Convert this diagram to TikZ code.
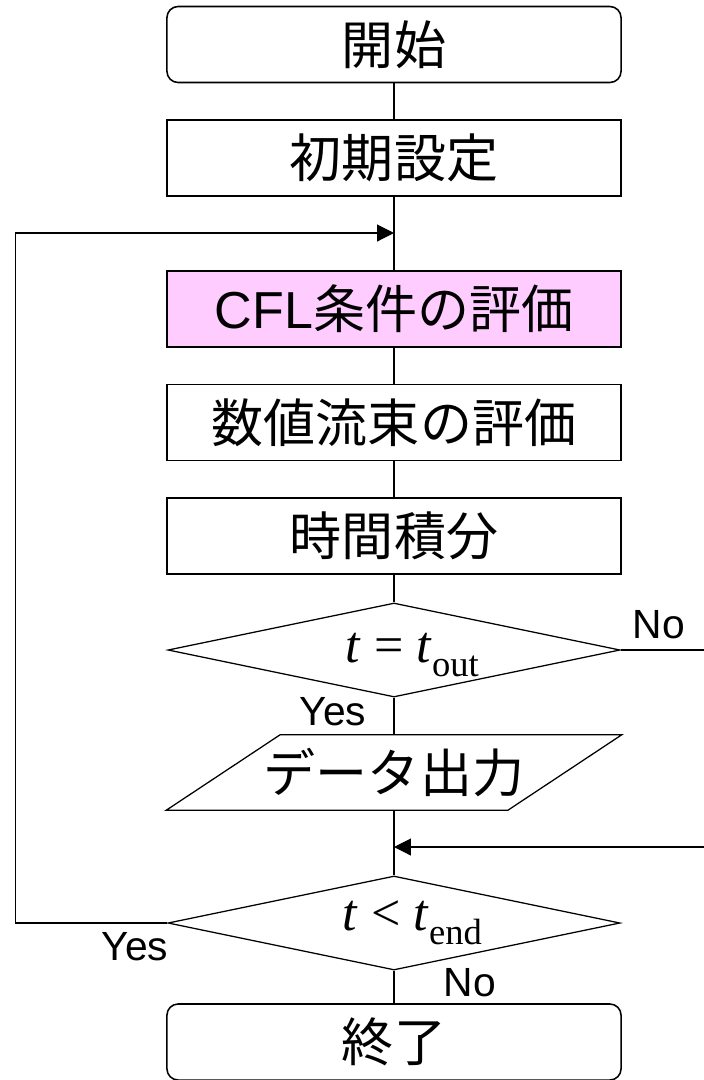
\documentclass[tikz,border=0pt]{standalone}
\usepackage{fontspec}
\setmainfont{Liberation Sans}
\newfontfamily\jpfont{Noto Sans CJK JP}
\newfontfamily\tnrfont{Liberation Serif}
\usetikzlibrary{shapes.geometric,arrows.meta}
\definecolor{cflpink}{HTML}{FFCCFF}
\newcommand{\tsubs}[1]{\textit{t}\raisebox{-0.27em}{\fontsize{26}{26}\selectfont #1}}

\begin{document}
\begin{tikzpicture}[x=0.025cm, y=-0.025cm,
    every node/.style={font=\fontsize{37}{40}\selectfont},
    proc/.style={draw, line width=1.1pt, minimum width=11.35cm, minimum height=1.9cm, inner sep=0pt},
    term/.style={proc, rounded corners=0.28cm},
    decision/.style={diamond, aspect=4.8, draw, line width=0.9pt, minimum width=11.3cm, minimum height=2.35cm, inner sep=0pt},
    io/.style={minimum width=8.525cm, minimum height=1.875cm, inner sep=0pt},
    lbl/.style={font=\fontsize{29}{30}\selectfont},
    link/.style={line width=0.8pt},
    arr/.style={link, -{Triangle[length=12pt,width=12pt]}}]
    \useasboundingbox (0,0) rectangle (704,1080);

    % Etapes
    \node[term] (start) at (394,44.5) {\jpfont 開始};
    \node[proc] (init) at (394,158) {\jpfont 初期設定};
    \node[proc, fill=cflpink] (cfl) at (394,309) {CFL\jpfont 条件の評価};
    \node[proc] (flux) at (394,422.5) {\jpfont 数値流束の評価};
    \node[proc] (integ) at (394,536) {\jpfont 時間積分};
    \node[decision, text depth=3.5pt] (outq) at (394,650) {\hspace*{26pt}\tnrfont\textit{t} = \tsubs{out}};
    \node[io] (out) at (394,772.5) {\jpfont データ出力};
    \node[decision] (endq) at (394,923) {\hspace*{26pt}\tnrfont\textit{t} < \tsubs{end}};
    \node[term] (stop) at (394,1042) {\jpfont 終了};

    % Parallelogramme
    \draw[line width=0.9pt] ([xshift=-1.425cm]out.south west) -- ([xshift=1.425cm]out.north west)
        -- ([xshift=1.425cm]out.north east) -- ([xshift=-1.425cm]out.south east) -- cycle;

    % Points de jonction
    \coordinate (loopin) at (394,233);
    \coordinate (joinin) at (394,847);

    % Liaisons
    \draw[link] (start) -- (init);
    \draw[link] (init) -- (cfl);
    \draw[link] (cfl) -- (flux);
    \draw[link] (flux) -- (integ);
    \draw[link] (integ) -- (outq);
    \draw[link] (outq) -- (out);
    \draw[link] (out) -- (endq);
    \draw[link] (endq) -- (stop);

    % Boucles
    \draw[arr] (endq.west) -- ++(-152,0) |- (loopin);
    \draw[arr] (outq.east) -- ++(120,0) |- (joinin);

    % Etiquettes
    \node[lbl] (yes1) at (333,712) {Yes};
    \node[lbl] (no1) at (659,625) {No};
    \node[lbl] (yes2) at (135,947) {Yes};
    \node[lbl] (no2) at (470,983) {No};
\end{tikzpicture}
\end{document}
